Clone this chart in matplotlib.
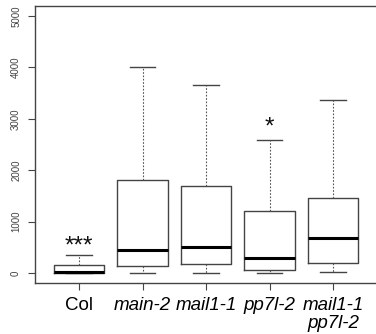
import matplotlib
matplotlib.use("Agg")
from matplotlib import pyplot as plt

# values (per genotype)
labels = ["Col", "main-2", "mail1-1", "pp7l-2", "mail1-1\npp7l-2"]
italic = [False, True, True, True, True]
whislo = [0, 0, 0, 0, 20]
q1 = [10, 140, 175, 58, 195]
med = [30, 450, 505, 290, 690]
q3 = [160, 1810, 1695, 1210, 1455]
whishi = [355, 4010, 3650, 2590, 3360]
signif = ["***", "", "", "*", ""]
signif_y = [400, 0, 0, 2720, 0]

plt.rcParams['font.family'] = ['Liberation Sans', 'DejaVu Sans']

fig = plt.figure(figsize=(3.76, 3.34), dpi=100)
ax = fig.add_axes([0.0931, 0.1527, 0.9069, 0.8308])

stats = []
for i in range(len(labels)):
    stats.append(dict(whislo=whislo[i], q1=q1[i], med=med[i], q3=q3[i],
                      whishi=whishi[i], fliers=[]))

pos = list(range(1, len(labels) + 1))
ax.bxp(stats, positions=pos, widths=0.8, showfliers=False,
       boxprops=dict(color='#444444', linewidth=1.0),
       medianprops=dict(color='black', linewidth=2.2),
       whiskerprops=dict(color='#555555', linewidth=0.8, linestyle=(0, (1.5, 1.5))),
       capprops=dict(color='#444444', linewidth=1.0),
       capwidths=0.4)

for i, s in enumerate(signif):
    if s:
        ax.text(pos[i], signif_y[i], s, ha='center', va='baseline',
                fontsize=17.5, color='#111111')

ax.set_xlim(0.307, 5.677)
ax.set_ylim(-190, 5200)
ax.set_yticks([0, 1000, 2000, 3000, 4000, 5000])
ax.set_yticklabels(["0", "1000", "2000", "3000", "4000", "5000"],
                   rotation=90, va='center', fontsize=7, color='#444444')
ax.tick_params(axis='y', length=5, width=0.8, color='#444444', pad=5)
ax.set_xticks(pos)
ax.set_xticklabels([])
ax.tick_params(axis='x', length=5, width=0.8, color='#444444')

for i, lab in enumerate(labels):
    ax.text(pos[i], -0.05, lab, transform=ax.get_xaxis_transform(),
            ha='center', va='top', fontsize=13.5,
            style='italic' if italic[i] else 'normal',
            linespacing=1.12, color='black')

ax.spines['right'].set_visible(False)
for sp in ['left', 'top', 'bottom']:
    ax.spines[sp].set_color('#444444')
    ax.spines[sp].set_linewidth(1.0)

fig.savefig("out.png", dpi=100)
